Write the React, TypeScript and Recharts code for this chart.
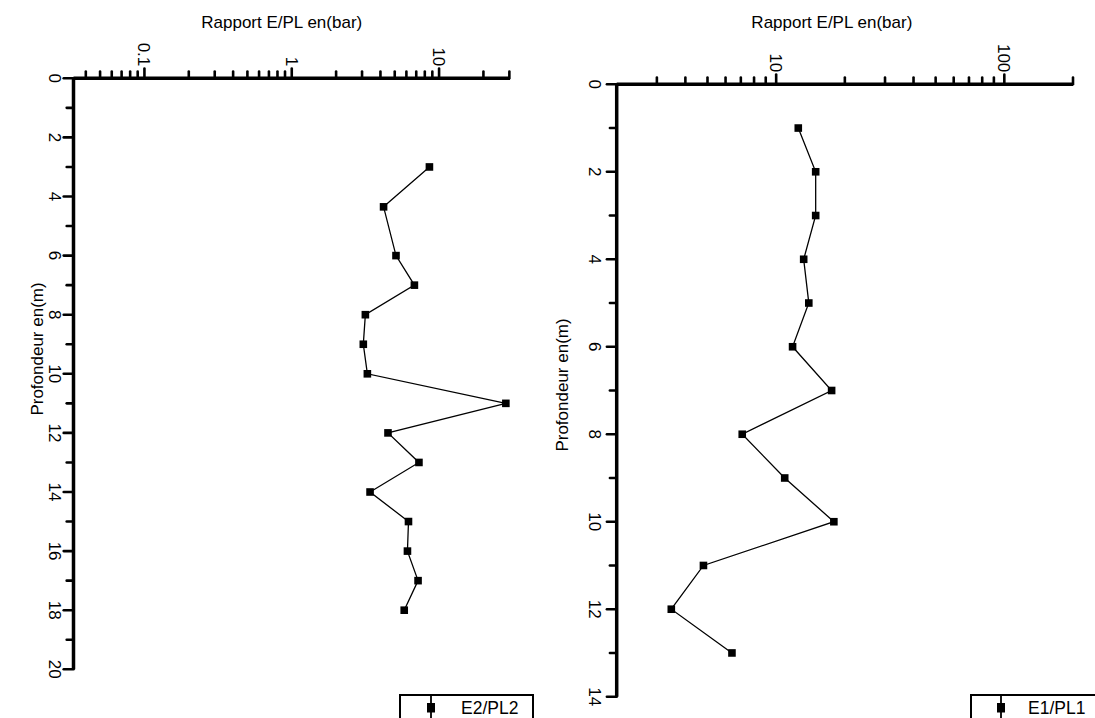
import { ScatterChart, Scatter, XAxis, YAxis, Legend } from "recharts";

// E2/PL2 (left profile)
const depthE2 = [3, 4.35, 6, 7, 8, 9, 10, 11, 12, 13, 14, 15, 16, 17, 18];
const ratioE2 = [8.6, 4.2, 5.1, 6.8, 3.16, 3.06, 3.26, 28.4, 4.5, 7.3, 3.4, 6.2, 6.1, 7.2, 5.8];

// E1/PL1 (right profile)
const depthE1 = [1, 2, 3, 4, 5, 6, 7, 8, 9, 10, 11, 12, 13];
const ratioE1 = [12.5, 14.9, 14.9, 13.2, 13.9, 11.8, 17.5, 7.1, 10.9, 17.9, 4.8, 3.47, 6.4];

const ratioTicksE2 = [
  0.04, 0.05, 0.06, 0.07, 0.08, 0.09, 0.1, 0.2, 0.3, 0.4, 0.5, 0.6, 0.7, 0.8,
  0.9, 1, 2, 3, 4, 5, 6, 7, 8, 9, 10, 20, 30,
];
const ratioLabelsE2 = [0.1, 1, 10];
const depthTicksE2 = [0, 1, 2, 3, 4, 5, 6, 7, 8, 9, 10, 11, 12, 13, 14, 15, 16, 17, 18, 19, 20];
const depthLabelsE2 = [0, 2, 4, 6, 8, 10, 12, 14, 16, 18, 20];

const ratioTicksE1 = [3, 4, 5, 6, 7, 8, 9, 10, 20, 30, 40, 50, 60, 70, 80, 90, 100, 200];
const ratioLabelsE1 = [10, 100];
const depthTicksE1 = [0, 1, 2, 3, 4, 5, 6, 7, 8, 9, 10, 11, 12, 13, 14];
const depthLabelsE1 = [0, 2, 4, 6, 8, 10, 12, 14];

const dataE2 = depthE2.map((d, i) => ({ depth: d, ratio: ratioE2[i] }));
const dataE1 = depthE1.map((d, i) => ({ depth: d, ratio: ratioE1[i] }));

const FONT = "'Liberation Sans', Arial, Helvetica, sans-serif";
const AXIS = { stroke: "#000", strokeWidth: 3.5 };

function RatioTick(props: any) {
  const { x, y, payload, labels } = props;
  const major = labels.includes(payload.value);
  return (
    <g>
      <line
        x1={x}
        x2={x}
        y1={y}
        y2={y - (major ? 9.8 : 6.8)}
        stroke="#000"
        strokeWidth={2.6}
        strokeLinecap="round"
      />
      {major && (
        <text
          transform={`translate(${x - 6},${y - 12}) rotate(90)`}
          textAnchor="end"
          fontFamily={FONT}
          fontSize={17}
          fill="#000"
        >
          {String(payload.value)}
        </text>
      )}
    </g>
  );
}

function DepthTick(props: any) {
  const { x, y, payload, labels, gap } = props;
  const major = labels.includes(payload.value);
  return (
    <g>
      <line
        x1={x}
        x2={x - (major ? 9.8 : 6.8)}
        y1={y}
        y2={y}
        stroke="#000"
        strokeWidth={2.6}
        strokeLinecap="round"
      />
      {major && (
        <text
          transform={`translate(${x - gap},${y}) rotate(90)`}
          textAnchor="middle"
          fontFamily={FONT}
          fontSize={17}
          fill="#000"
        >
          {String(payload.value)}
        </text>
      )}
    </g>
  );
}

function Marker(props: any) {
  const { cx, cy } = props;
  if (cx == null || cy == null) return null;
  return <rect x={cx - 3.8} y={cy - 3.8} width={7.6} height={7.6} fill="#000" />;
}

function LegendBox({ label, lineX, textX }: { label: string; lineX: number; textX: number }) {
  return (
    <div
      style={{
        boxSizing: "border-box",
        width: "100%",
        height: "100%",
        border: "2.5px solid #000",
        background: "#fff",
        position: "relative",
        fontFamily: FONT,
        fontSize: 17.5,
        color: "#000",
      }}
    >
      <svg width={60} height={40} style={{ position: "absolute", left: 0, top: 0 }}>
        <line x1={lineX} x2={lineX} y1={0} y2={40} stroke="#000" strokeWidth={1.8} />
        <rect x={lineX - 4} y={7} width={8} height={9.5} fill="#000" />
      </svg>
      <span style={{ position: "absolute", left: textX, top: 2, lineHeight: "20px", whiteSpace: "nowrap" }}>
        {label}
      </span>
    </div>
  );
}

function xTitle(text: string, dx: number) {
  return (props: any) => {
    const vb = props.viewBox || {};
    const cx = (vb.x ?? 0) + (vb.width ?? 0) / 2 + dx;
    return (
      <text x={cx} y={27.5} textAnchor="middle" fontFamily={FONT} fontSize={17} fill="#000">
        {text}
      </text>
    );
  };
}

function yTitle(text: string, bx: number, cy: number) {
  return () => (
    <text
      transform={`translate(${bx},${cy}) rotate(-90)`}
      textAnchor="middle"
      fontFamily={FONT}
      fontSize={17}
      fill="#000"
    >
      {text}
    </text>
  );
}

export default function App() {
  return (
    <div
      style={{
        position: "absolute",
        left: 0,
        top: 0,
        width: 1095,
        height: 718,
        overflow: "hidden",
        background: "#fff",
      }}
    >
      <div style={{ position: "absolute", left: 0, top: 0 }}>
        <ScatterChart
          width={548}
          height={718}
          margin={{ top: 77.3, right: 38, bottom: 48.7, left: 72.5 }}
        >
          <XAxis
            orientation="top"
            type="number"
            dataKey="ratio"
            scale="log"
            domain={[0.033, 30.3]}
            allowDataOverflow
            ticks={ratioTicksE2}
            interval={0}
            height={1}
            tickSize={0}
            tickMargin={0}
            tickLine={false}
            axisLine={AXIS}
            tick={(p: any) => <RatioTick {...p} labels={ratioLabelsE2} />}
            label={xTitle("Rapport E/PL en(bar)", -10)}
          />
          <YAxis
            type="number"
            dataKey="depth"
            domain={[0, 20]}
            reversed
            allowDataOverflow
            ticks={depthTicksE2}
            interval={0}
            width={1}
            tickSize={0}
            tickMargin={0}
            tickLine={false}
            axisLine={AXIS}
            tick={(p: any) => <DepthTick {...p} labels={depthLabelsE2} gap={25} />}
            label={yTitle("Profondeur en(m)", 43, 349)}
          />
          <Scatter
            name="E2/PL2"
            data={dataE2}
            line={{ stroke: "#000", strokeWidth: 1.3 }}
            lineType="joint"
            shape={<Marker />}
            isAnimationActive={false}
          />
          <Legend
            layout="horizontal"
            verticalAlign="middle"
            align="center"
            wrapperStyle={{ left: 399, top: 694, width: 135, height: 40 }}
            content={() => <LegendBox label="E2/PL2" lineX={30} textX={60} />}
          />
        </ScatterChart>
      </div>

      <div style={{ position: "absolute", left: 548, top: 0 }}>
        <ScatterChart
          width={547}
          height={718}
          margin={{ top: 83.3, right: 22, bottom: 21.3, left: 67.7 }}
        >
          <XAxis
            orientation="top"
            type="number"
            dataKey="ratio"
            scale="log"
            domain={[2, 200]}
            allowDataOverflow
            ticks={ratioTicksE1}
            interval={0}
            height={1}
            tickSize={0}
            tickMargin={0}
            tickLine={false}
            axisLine={AXIS}
            tick={(p: any) => <RatioTick {...p} labels={ratioLabelsE1} />}
            label={xTitle("Rapport E/PL en(bar)", -13)}
          />
          <YAxis
            type="number"
            dataKey="depth"
            domain={[0, 14]}
            reversed
            allowDataOverflow
            ticks={depthTicksE1}
            interval={0}
            width={1}
            tickSize={0}
            tickMargin={0}
            tickLine={false}
            axisLine={AXIS}
            tick={(p: any) => <DepthTick {...p} labels={depthLabelsE1} gap={28} />}
            label={yTitle("Profondeur en(m)", 20, 385)}
          />
          <Scatter
            name="E1/PL1"
            data={dataE1}
            line={{ stroke: "#000", strokeWidth: 1.3 }}
            lineType="joint"
            shape={<Marker />}
            isAnimationActive={false}
          />
          <Legend
            layout="horizontal"
            verticalAlign="middle"
            align="center"
            wrapperStyle={{ left: 422, top: 694, width: 130, height: 40 }}
            content={() => <LegendBox label="E1/PL1" lineX={29} textX={56} />}
          />
        </ScatterChart>
      </div>
    </div>
  );
}
